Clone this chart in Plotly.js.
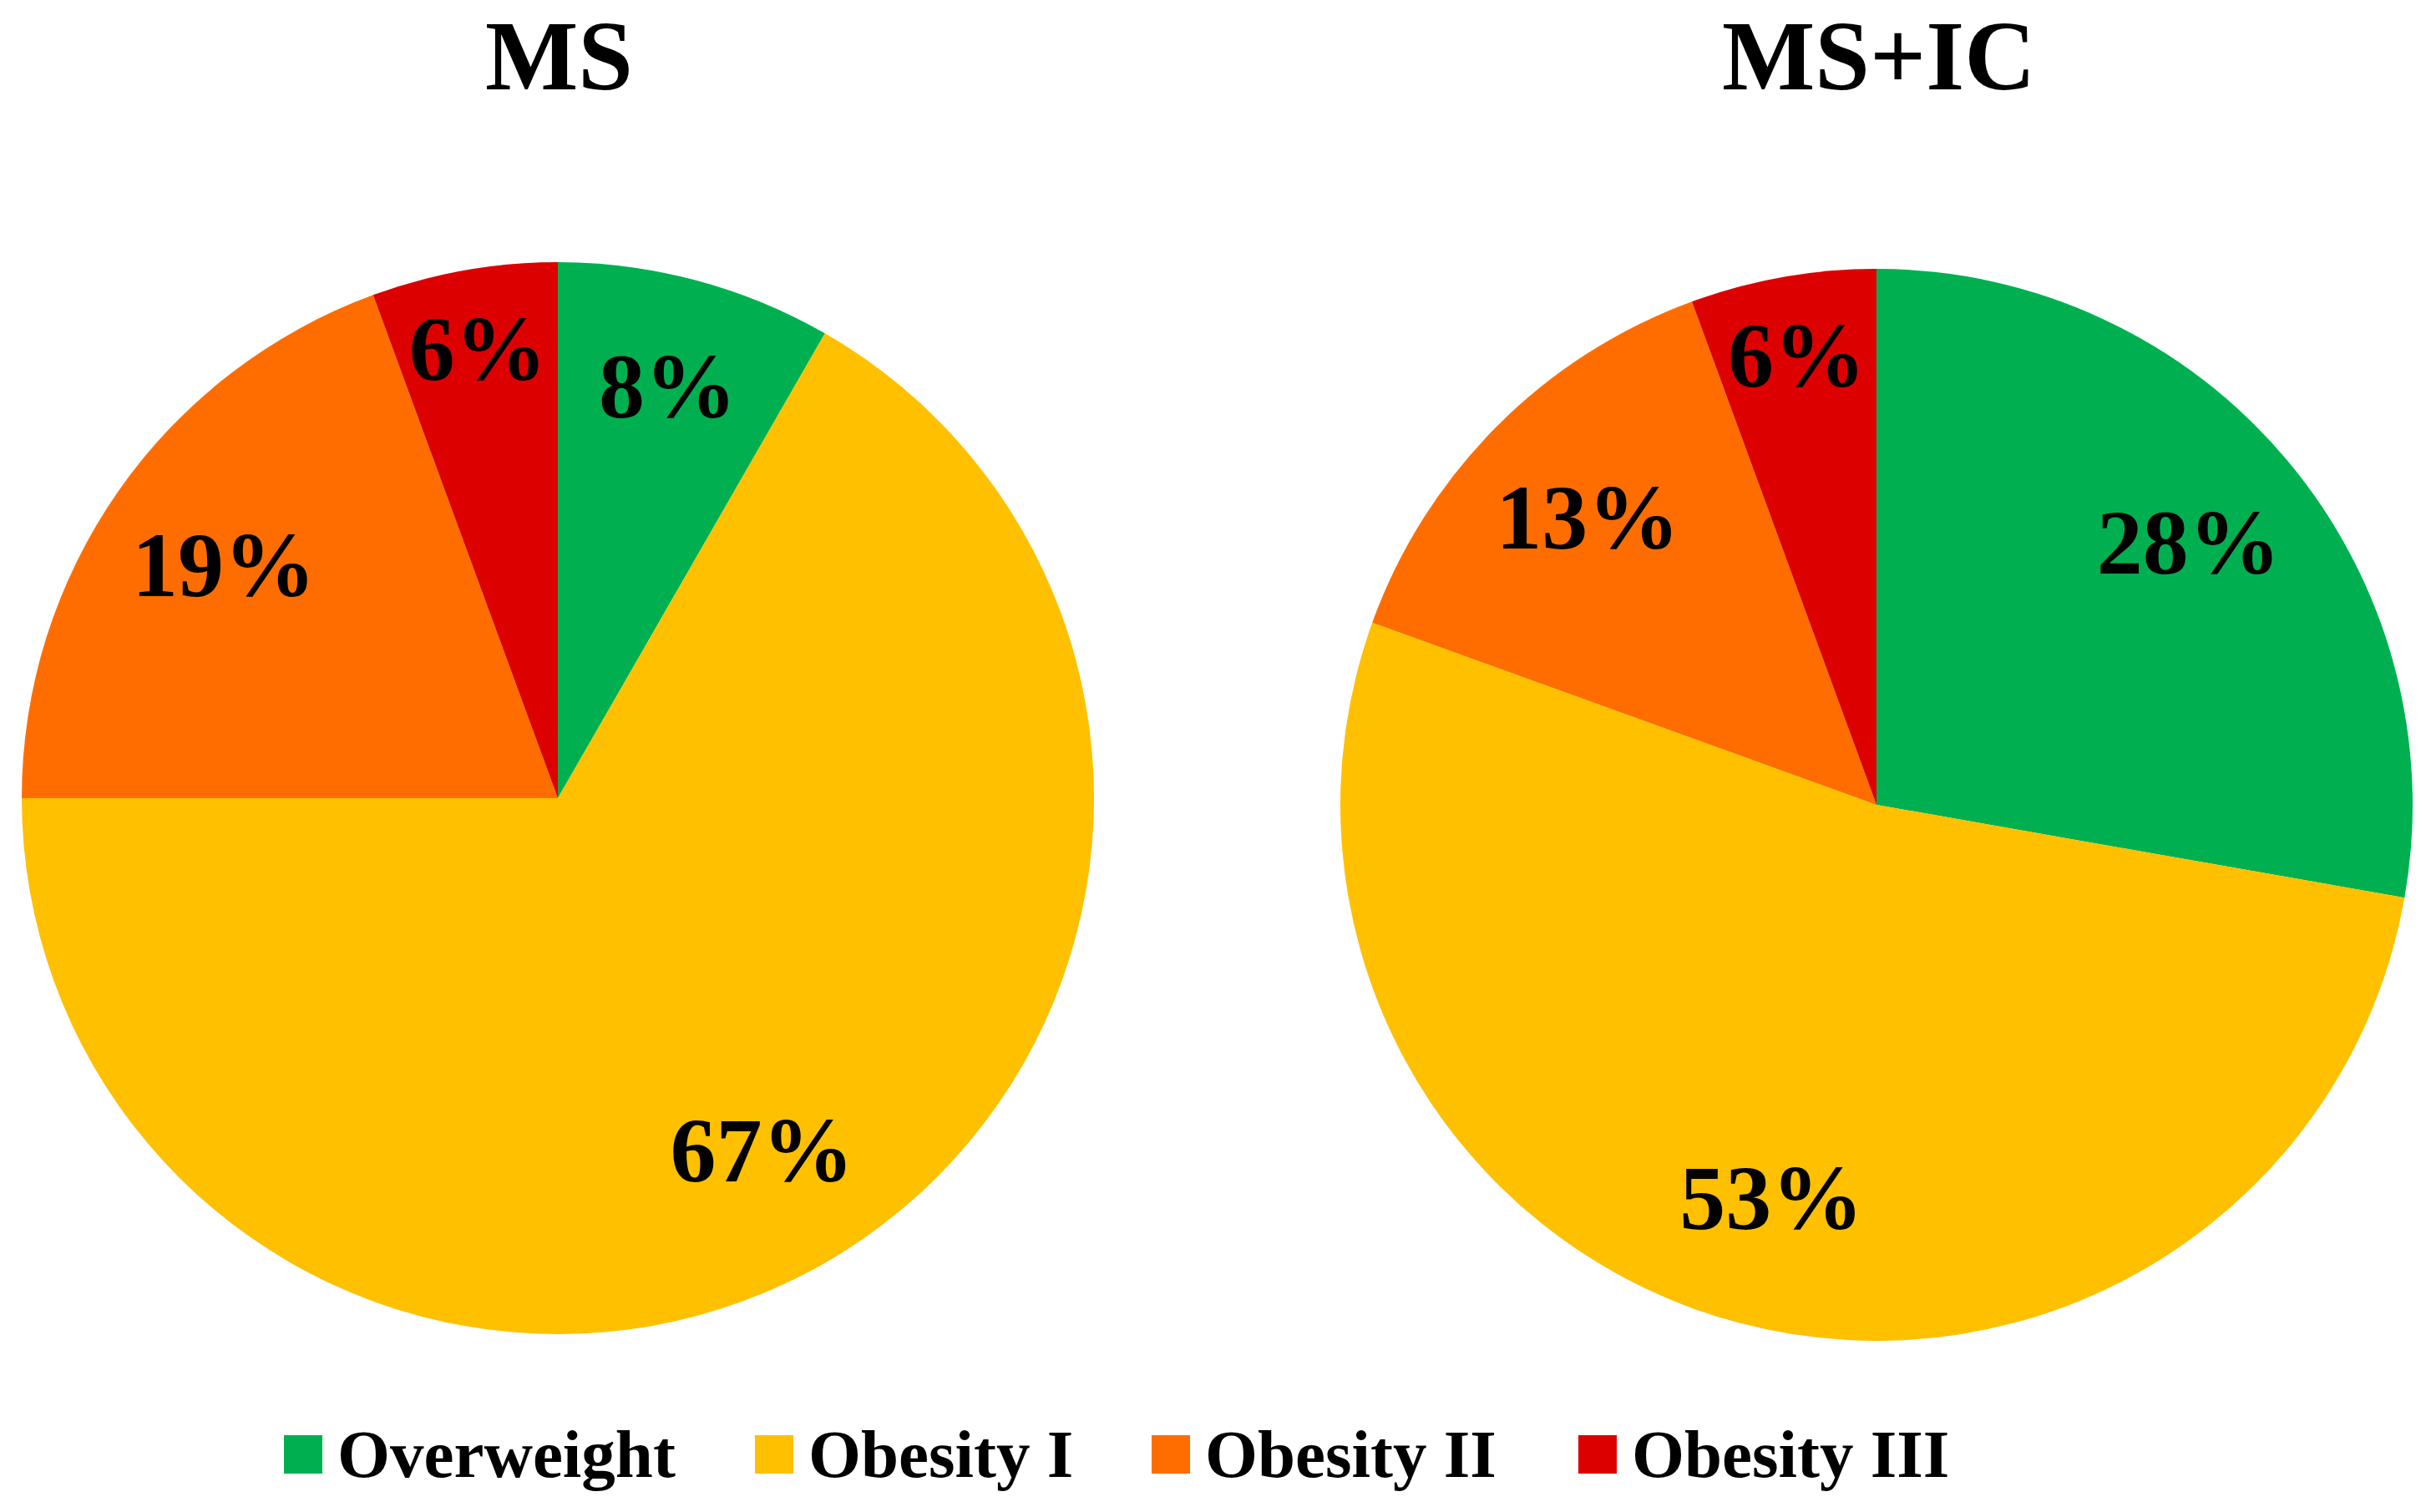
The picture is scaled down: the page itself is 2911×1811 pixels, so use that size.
<!DOCTYPE html>
<html>
<head>
<meta charset="utf-8">
<script src="https://cdn.plot.ly/plotly-3.0.1.min.js"></script>
<style>
  html, body { margin: 0; padding: 0; background: #ffffff; }
  #chart { width: 2911px; height: 1811px; }
</style>
</head>
<body>
<div id="chart"></div>
<script>
// ---- data ----
const categories = ["Overweight", "Obesity I", "Obesity II", "Obesity III"];
// slice shares
const msValues = [8.3, 66.7, 19.4, 5.6];
const msicValues = [27.8, 52.8, 13.9, 5.6];
// percentage labels as printed on the chart
const msLabels = ["8%", "67%", "19%", "6%"];
const msicLabels = ["28%", "53%", "13%", "6%"];
const groupTitles = ["MS", "MS+IC"];
const sliceColors = ["#00B050", "#FFC000", "#FF6D00", "#DD0000"];

// ---- layout constants (pixels) ----
const W = 2911, H = 1811;
const FONT = "Liberation Serif, Times New Roman, serif";
const px = x => x / W;
const py = y => 1 - y / H;
const LABEL_SIZE = 110;

function domainFor(cx, cy, r) {
  return { x: [px(cx - r), px(cx + r)], y: [py(cy + r), py(cy - r)] };
}

function pieTrace(values, cx, cy, r) {
  return {
    type: "pie",
    labels: categories,
    values: values,
    sort: false,
    direction: "clockwise",
    rotation: 0,
    marker: { colors: sliceColors, line: { width: 0 } },
    textinfo: "none",
    hoverinfo: "label+percent",
    showlegend: false,
    domain: domainFor(cx, cy, r)
  };
}

// transparent ring carrying the percentage labels, so they sit in the outer part of each slice
function labelRing(values, labels, cx, cy, r) {
  return {
    type: "pie",
    labels: categories,
    values: values,
    sort: false,
    direction: "clockwise",
    rotation: 0,
    hole: 0.52,
    marker: { colors: categories.map(() => "rgba(0,0,0,0)"), line: { width: 0 } },
    textinfo: "text",
    text: labels,
    textposition: "inside",
    insidetextorientation: "horizontal",
    textfont: { family: FONT, size: LABEL_SIZE, color: "#000000", weight: "bold" },
    hoverinfo: "skip",
    showlegend: false,
    domain: domainFor(cx, cy, r)
  };
}

const data = [
  pieTrace(msValues, 668, 956, 642),
  pieTrace(msicValues, 2247, 964, 642),
  labelRing(msValues, msLabels, 668, 956, 642),
  labelRing(msicValues, msicLabels, 2247, 964, 642)
];

const annotations = [];
const shapes = [];
const titleX = [669, 2249];
groupTitles.forEach((t, i) => {
  annotations.push({
    text: "<b>" + t + "</b>", xref: "paper", yref: "paper",
    x: px(titleX[i]), y: py(67), xanchor: "center", yanchor: "middle",
    showarrow: false, font: { family: FONT, size: 118, color: "#000000" }
  });
});

// legend (built from categories and colours)
const legendSquareX = [340, 904, 1379, 1890];
const legendY = 1742, sq = 46;
categories.forEach((c, i) => {
  shapes.push({
    type: "rect", xref: "paper", yref: "paper",
    x0: px(legendSquareX[i]), x1: px(legendSquareX[i] + sq),
    y0: py(legendY + sq / 2), y1: py(legendY - sq / 2),
    fillcolor: sliceColors[i], line: { width: 0 }
  });
  annotations.push({
    text: "<b>" + c + "</b>", xref: "paper", yref: "paper",
    x: px(legendSquareX[i] + 62), y: py(legendY), xanchor: "left", yanchor: "middle",
    showarrow: false, font: { family: FONT, size: 81, color: "#000000" }
  });
});

const layout = {
  width: W, height: H,
  margin: { l: 0, r: 0, t: 0, b: 0 },
  paper_bgcolor: "#ffffff",
  showlegend: false,
  uniformtext: { minsize: LABEL_SIZE, mode: "show" },
  annotations: annotations,
  shapes: shapes
};

Plotly.newPlot("chart", data, layout, { staticPlot: true, displayModeBar: false });
</script>
</body>
</html>
